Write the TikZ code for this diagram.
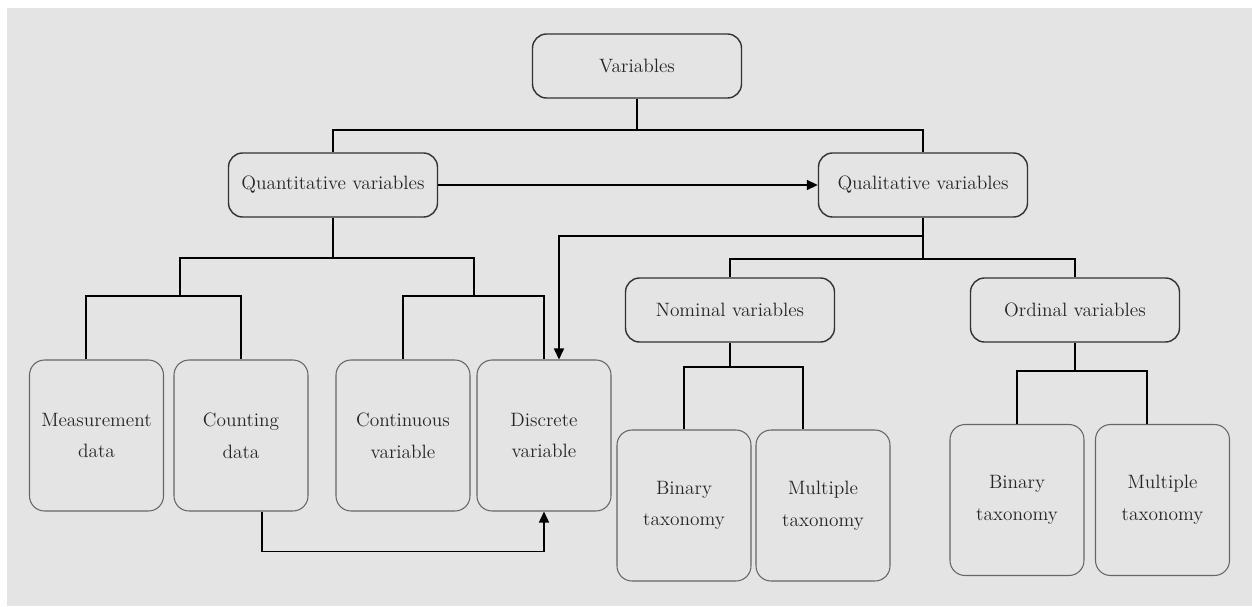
\documentclass[tikz,border=0pt]{standalone}
\usetikzlibrary{arrows.meta, calc}

\definecolor{bggray}{RGB}{228,228,228}

\begin{document}
\begin{tikzpicture}[x=0.02cm,y=-0.02cm,
  topbox/.style={draw=black!80,line width=0.8pt,rounded corners=0.28cm,
    minimum width=4.18cm,minimum height=1.28cm,inner sep=0pt,
    font=\fontsize{11}{18}\selectfont,text=black!85},
  leafbox/.style={draw=black!60,line width=0.6pt,rounded corners=0.3cm,
    minimum width=2.68cm,minimum height=3.02cm,inner sep=0pt,align=center,
    font=\fontsize{11}{18}\selectfont,text=black!85},
  conn/.style={draw=black,line width=0.9pt},
  tip/.style={-{Triangle[length=0.22cm,width=0.2cm]}}]
  %\draw (0, 0) grid (1252, 606);

  \useasboundingbox (0,0) rectangle (1252,606);
  \fill[bggray] (7,8) rectangle (1252,606);

  % upper levels
  \node[topbox] (var)   at (637,66)   {Variables};
  \node[topbox] (quant) at (333,185)  {Quantitative variables};
  \node[topbox] (qual)  at (923,185)  {Qualitative variables};
  \node[topbox] (nom)   at (730,310)  {Nominal variables};
  \node[topbox] (ord)   at (1075,310) {Ordinal variables};

  % leaves
  \node[leafbox] (meas)  at (96.5,435.5) {Measurement\\data};
  \node[leafbox] (count) at (241,435.5)  {Counting\\data};
  \node[leafbox] (cont)  at (403,435.5)  {Continuous\\variable};
  \node[leafbox] (disc)  at (544,435.5)  {Discrete\\variable};
  \node[leafbox] (bin1)  at (684,505.5)  {Binary\\taxonomy};
  \node[leafbox] (mult1) at (823,505.5)  {Multiple\\taxonomy};
  \node[leafbox] (bin2)  at (1017,500)   {Binary\\taxonomy};
  \node[leafbox] (mult2) at (1162.5,500) {Multiple\\taxonomy};

  % variables -> quantitative / qualitative
  \coordinate (j0) at (637,130);
  \draw[conn] (var) -- (j0);
  \draw[conn] (quant.north) |- (j0) -| (qual.north);
  \draw[conn,tip] (quant) -- (qual);

  % quantitative branch
  \coordinate (j1) at (333,258);
  \coordinate (j2) at (180,296);
  \coordinate (j3) at (474,296);
  \draw[conn] (quant) -- (j1);
  \draw[conn] (j2) |- (j1) -| (j3);
  \draw[conn] ([xshift=-0.21cm]meas.north) |- (j2) -| (count.north);
  \draw[conn] (cont.north) |- (j3) -| (disc.north);

  % counting data -> discrete variable
  \draw[conn,tip] ([xshift=0.42cm]count.south) -- ++(0,40) -| (disc.south);

  % qualitative branch
  \coordinate (j4) at (923,236);
  \coordinate (j5) at (923,259);
  \draw[conn,tip] (qual) -- (j4) -| ([xshift=0.3cm]disc.north);
  \draw[conn] (j4) -- (j5);
  \draw[conn] (nom.north) |- (j5) -| (ord.north);

  % nominal / ordinal
  \coordinate (j6) at (730,367);
  \coordinate (j7) at (1075,371);
  \draw[conn] (nom) -- (j6);
  \draw[conn] (bin1.north) |- (j6) -| ([xshift=-0.4cm]mult1.north);
  \draw[conn] (ord) -- (j7);
  \draw[conn] (bin2.north) |- (j7) -| ([xshift=-0.31cm]mult2.north);

\end{tikzpicture}
\end{document}
